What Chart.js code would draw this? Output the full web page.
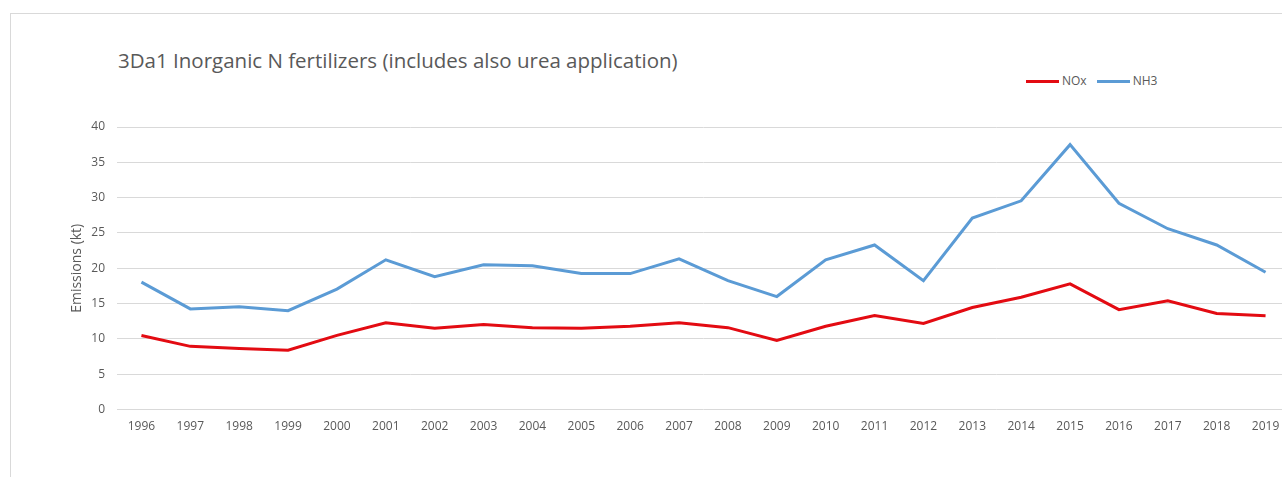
<!DOCTYPE html>
<html>
<head>
<meta charset="utf-8">
<script src="https://cdn.jsdelivr.net/npm/chart.js@4/dist/chart.umd.min.js"></script>
<style>
  html, body { margin: 0; padding: 0; background: #fff; overflow: hidden; width: 1282px; height: 477px; }
  #frame { position: absolute; left: 10px; top: 13px; width: 1400px; height: 600px;
           border-left: 1px solid #d9d9d9; border-top: 1px solid #d9d9d9; }
  #chart-wrap { position: absolute; left: 0; top: 0; }
  #title { position: absolute; left: 118px; top: 46px; font-family: 'Open Sans', sans-serif;
           font-size: 20.5px; color: #595959; white-space: nowrap; }
  #legend { position: absolute; left: 1026px; top: 72px; font-family: 'Open Sans', sans-serif;
            font-size: 12px; color: #595959; white-space: nowrap; }
  #legend .item { display: inline-block; margin-right: 10px; }
  #legend .swatch { display: inline-block; width: 33px; height: 3px; vertical-align: middle; margin-right: 3px; }
</style>
</head>
<body>
<div id="frame"></div>
<div id="title">3Da1 Inorganic N fertilizers (includes also urea application)</div>
<div id="legend"></div>
<div id="chart-wrap"><canvas id="line-chart" width="1292" height="477"></canvas></div>
<script>
var years = ['1996','1997','1998','1999','2000','2001','2002','2003','2004','2005','2006','2007',
             '2008','2009','2010','2011','2012','2013','2014','2015','2016','2017','2018','2019'];

var noxData = [10.5, 8.95, 8.65, 8.4, 10.5, 12.3, 11.5, 12.05, 11.6, 11.5, 11.8, 12.3,
               11.6, 9.8, 11.8, 13.3, 12.2, 14.45, 15.9, 17.8, 14.15, 15.4, 13.6, 13.3];

var nh3Data = [18.05, 14.25, 14.55, 14.0, 17.05, 21.2, 18.8, 20.5, 20.35, 19.25, 19.25, 21.35,
               18.25, 16.0, 21.2, 23.3, 18.25, 27.1, 29.55, 37.5, 29.2, 25.6, 23.3, 19.45];

var yTicks = [0, 5, 10, 15, 20, 25, 30, 35, 40];

var textColor = '#595959';
var gridColor = '#d9d9d9';

var configLine = {
    type: 'line',
    data: {
        labels: years,
        datasets: [{
            label: 'NOx',
            data: noxData,
            borderColor: '#e30b12', //red
            backgroundColor: '#e30b12',
            borderWidth: 3,
            pointRadius: 0,
            tension: 0
        }, {
            label: 'NH3',
            data: nh3Data,
            borderColor: '#5b9bd5', //blue
            backgroundColor: '#5b9bd5',
            borderWidth: 3,
            pointRadius: 0,
            tension: 0
        }]
    },
    options: {
        responsive: false,
        animation: false,
        layout: {
            padding: { left: 69, top: 127, right: 2, bottom: 33 }
        },
        plugins: {
            legend: { display: false },
            title: { display: false },
            tooltip: { enabled: false }
        },
        scales: {
            x: {
                offset: true,
                grid: { display: false, drawTicks: false },
                border: { display: false },
                ticks: {
                    color: textColor,
                    font: { family: 'Open Sans', size: 12 },
                    padding: 10,
                    maxRotation: 0,
                    autoSkip: false
                }
            },
            y: {
                min: 0,
                max: 40,
                afterBuildTicks: function (scale) {
                    scale.ticks = yTicks.map(function (v) { return { value: v }; });
                },
                afterFit: function (scale) {
                    scale.width = 48;
                },
                grid: { color: gridColor, lineWidth: 1, drawTicks: false },
                border: { display: false },
                ticks: {
                    color: textColor,
                    font: { family: 'Open Sans', size: 12 },
                    padding: 12
                },
                title: {
                    display: true,
                    text: 'Emissions (kt)',
                    color: textColor,
                    font: { family: 'Open Sans', size: 14 },
                    padding: 0
                }
            }
        }
    }
};

var ctxLine = document.getElementById('line-chart').getContext('2d');
var myLine = new Chart(ctxLine, configLine);

// legend built from the chart's own datasets
var legendEl = document.getElementById('legend');
myLine.data.datasets.forEach(function (ds) {
    var item = document.createElement('span');
    item.className = 'item';
    var sw = document.createElement('span');
    sw.className = 'swatch';
    sw.style.background = ds.borderColor;
    item.appendChild(sw);
    item.appendChild(document.createTextNode(ds.label));
    legendEl.appendChild(item);
});
</script>
</body>
</html>
